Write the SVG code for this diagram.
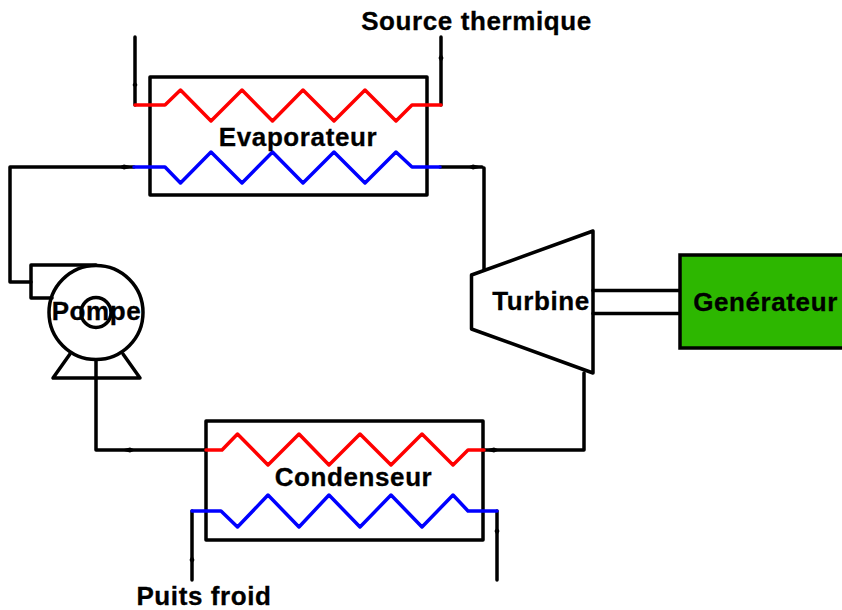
<svg xmlns="http://www.w3.org/2000/svg" width="842" height="610" viewBox="0 0 842 610">
<style>
.k{fill:none;stroke:#000;stroke-width:3.5;stroke-linejoin:round;stroke-linecap:round}
.r{fill:none;stroke:#f00;stroke-width:3.5;stroke-linejoin:round;stroke-linecap:round}
.b{fill:none;stroke:#00f;stroke-width:3.5;stroke-linejoin:round;stroke-linecap:round}
.t{font-family:"Liberation Sans",Arial,sans-serif;font-weight:bold;font-size:26px;letter-spacing:.6px;fill:#000;stroke:#000;stroke-width:.3;text-anchor:middle}
.a{fill:#000;stroke:none}
</style>
<rect width="842" height="610" fill="#fff"/>
<g id="connectors">
<path class="k" d="M135 37V105"/>
<path class="k" d="M441 37V105"/>
<path class="k" d="M134 167H10V282H31"/>
<path class="k" d="M440 167H482M484 168V270"/>
<path class="k" d="M584 373V450H484"/>
<path class="k" d="M206 450H96V360"/>
<path class="k" d="M192 580V511"/>
<path class="k" d="M497 511V580"/>
<path class="k" d="M593 290.500H680M593 313.500H680"/>
<polygon class="a" points="135,88 132.500,85 135,81 137.500,85"/>
<polygon class="a" points="441,53 443.500,58 441,63 438.500,58"/>
<polygon class="a" points="134,167 124,164.500 118,167 124,169.500"/>
<polygon class="a" points="483,167 473,164.500 467,167 473,169.500"/>
<polygon class="a" points="120,450 130,447.500 136,450 130,452.500"/>
<polygon class="a" points="484,450 494,447.500 500,450 494,452.500"/>
<polygon class="a" points="192,555 194.500,560 192,564 189.500,560"/>
<polygon class="a" points="497,536 499.500,531 497,527 494.500,531"/>
</g>
<g id="evaporateur">
<rect class="k" x="150" y="77" width="277" height="118"/>
<path class="r" d="M135 105H165L180.500 90L211 121L242 90L272.500 121L303 90L334 121L365 90L396 121L412 105H441"/>
<path class="b" d="M134 167H165L180.500 183L211 152L242 183L272.500 152L303 183L334 152L365 183L396 152L412 167H440"/>
<text class="t" x="298" y="146">Evaporateur</text>
</g>
<g id="condenseur">
<rect class="k" x="206" y="421" width="277" height="119"/>
<path class="r" d="M206 450H222L237.500 434L268 465L299 434L329 465L360 434L391 465L422 434L453 465L468 450H484"/>
<path class="b" d="M192 511H221L237.500 527L268 495L299 527L329 495L360 527L391 495L422 527L453 495L468 511H497"/>
<text class="t" x="353.500" y="486">Condenseur</text>
</g>
<g id="turbine">
<polygon class="k" points="471.500,275 593,231 593,373 471.500,329"/>
<text class="t" x="541" y="310">Turbine</text>
</g>
<g id="generateur">
<rect x="680" y="255" width="170" height="93" fill="#2db700" stroke="#000" stroke-width="3.500"/>
<text class="t" x="765.500" y="311">Genérateur</text>
</g>
<g id="pompe">
<path class="k" d="M96 265H31V298H52"/>
<path class="k" d="M70 354L53 378H140L123 354"/>
<circle class="k" cx="96" cy="312.500" r="47"/>
<circle class="k" cx="96" cy="312.500" r="15"/>
<text class="t" x="96.500" y="320">Pompe</text>
</g>
<g id="labels">
<text class="t" x="476.500" y="30">Source thermique</text>
<text class="t" x="204" y="605">Puits froid</text>
</g>
</svg>
